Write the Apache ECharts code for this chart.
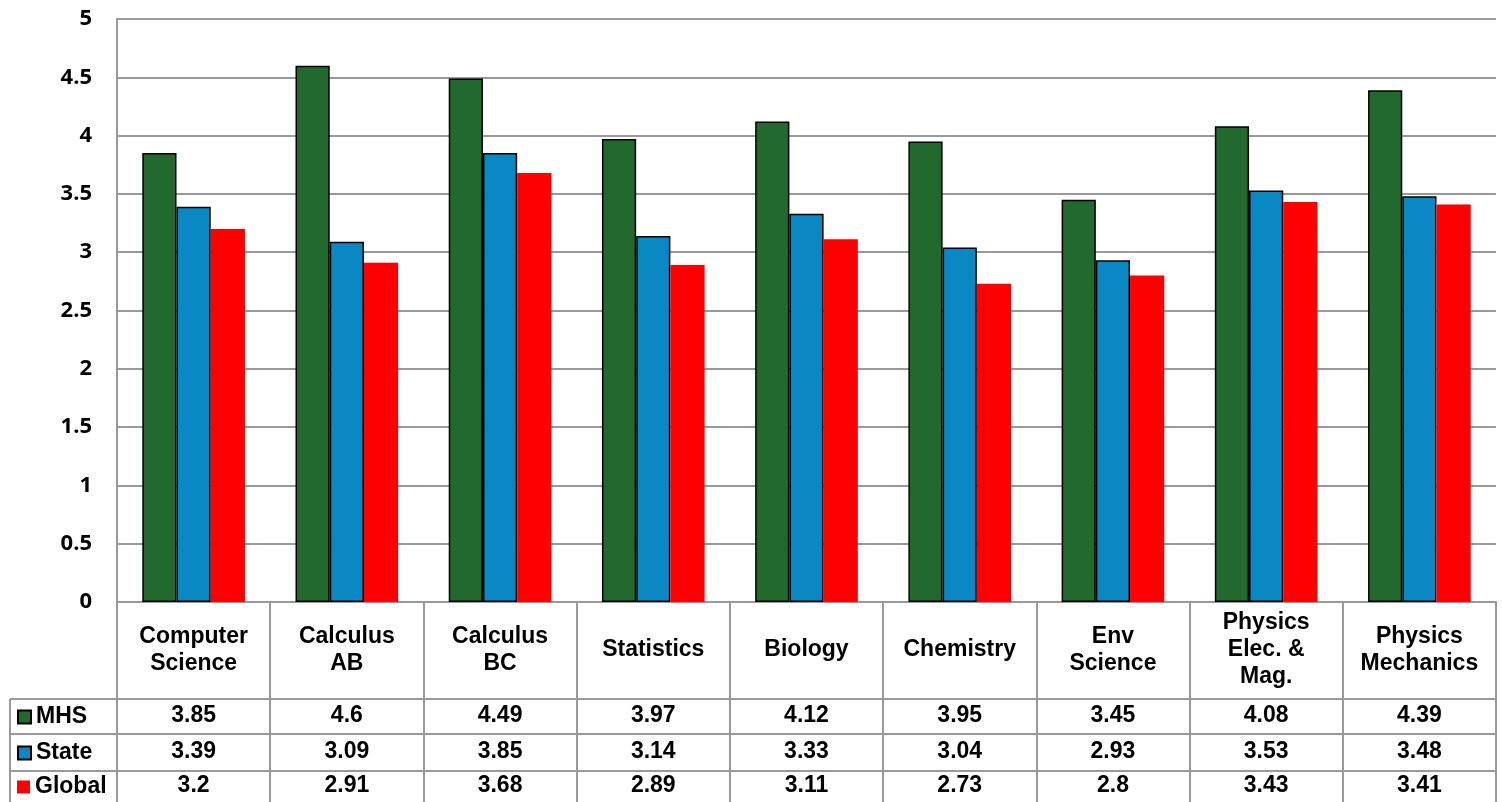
<!DOCTYPE html>
<html>
<head>
<meta charset="utf-8">
<script src="https://cdn.jsdelivr.net/npm/echarts@6/dist/echarts.min.js"></script>
<style>html,body{margin:0;padding:0;background:#fff}#c{width:1502px;height:802px}</style>
</head>
<body>
<div id="c"></div>
<script>
const categories = ['Computer\nScience','Calculus\nAB','Calculus\nBC','Statistics','Biology','Chemistry','Env\nScience','Physics\nElec. &\nMag.','Physics\nMechanics'];
const seriesNames = ['MHS','State','Global'];
const mhs = [3.85,4.6,4.49,3.97,4.12,3.95,3.45,4.08,4.39];
const state = [3.39,3.09,3.85,3.14,3.33,3.04,2.93,3.53,3.48];
const globalVals = [3.2,2.91,3.68,2.89,3.11,2.73,2.8,3.43,3.41];
const yTicks = {min:0, max:5, interval:0.5};

const GRID = '#999999';
const TFONT = 'Liberation Sans, Arial, sans-serif';
const TSIZE = 23;
const chart = echarts.init(document.getElementById('c'));
const rowsVals = [mhs, state, globalVals];
const rowOffsets = [97, 132, 169];
const rowMargins = [17, 18, 15];
const legendTops = [705, 741, 775];

const xAxes = [{
  type:'category', data: categories, position:'bottom', gridIndex:0,
  axisLine:{show:true, lineStyle:{color:GRID, width:2}},
  axisTick:{show:true, length:200, lineStyle:{color:GRID, width:2}},
  axisLabel:{interval:0, margin:48, verticalAlign:'middle', color:'#000', fontFamily:TFONT, fontWeight:'bold', fontSize:TSIZE, lineHeight:27}
}];
rowsVals.forEach((vals, r) => {
  xAxes.push({
    type:'category', data: categories, position:'bottom', offset: rowOffsets[r], gridIndex:0,
    axisLine:{show:true, lineStyle:{color:GRID, width:2}},
    axisTick:{show:false},
    axisLabel:{interval:0, margin: rowMargins[r], verticalAlign:'middle', color:'#000', fontFamily:TFONT, fontWeight:'bold', fontSize:TSIZE,
      formatter:(v, i) => String(vals[i])}
  });
});

const colors = ['#21692C', '#0A88C4', '#FF0000'];
const borders = [{borderColor:'#000', borderWidth:1.5},{borderColor:'#000', borderWidth:1.5},{borderWidth:0}];

chart.setOption({
  animation:false,
  grid:{left:117, right:6, top:19, bottom:200, containLabel:false},
  legend: seriesNames.map((n, i) => ({
    data:[n], orient:'vertical', left:17, top:legendTops[i], itemWidth:13, itemHeight:13,
    icon:'rect', selectedMode:false, padding:0,
    textStyle:{color:'#000', fontFamily:TFONT, fontWeight:'bold', fontSize:TSIZE, lineHeight:24}
  })),
  xAxis: xAxes,
  yAxis:{
    type:'value', min:yTicks.min, max:yTicks.max, interval:yTicks.interval,
    axisLine:{show:true, lineStyle:{color:GRID, width:2}},
    axisTick:{show:false},
    splitLine:{show:true, lineStyle:{color:GRID, width:2}},
    axisLabel:{margin:25, color:'#000', fontFamily:'Open Sans, sans-serif', fontWeight:'bold', fontSize:22}
  },
  series: [mhs, state, globalVals].map((d, i) => ({
    name: seriesNames[i], type:'bar', data:d, xAxisIndex:0,
    barGap:'0%', barCategoryGap:'33%',
    itemStyle: Object.assign({color: colors[i]}, borders[i])
  })),
  graphic:[
    {type:'line', shape:{x1:10, y1:699, x2:117, y2:699}, style:{stroke:GRID, lineWidth:2}},
    {type:'line', shape:{x1:10, y1:734, x2:117, y2:734}, style:{stroke:GRID, lineWidth:2}},
    {type:'line', shape:{x1:10, y1:771, x2:117, y2:771}, style:{stroke:GRID, lineWidth:2}},
    {type:'line', shape:{x1:10, y1:699, x2:10, y2:802}, style:{stroke:GRID, lineWidth:2}}
  ]
});
</script>
</body>
</html>
